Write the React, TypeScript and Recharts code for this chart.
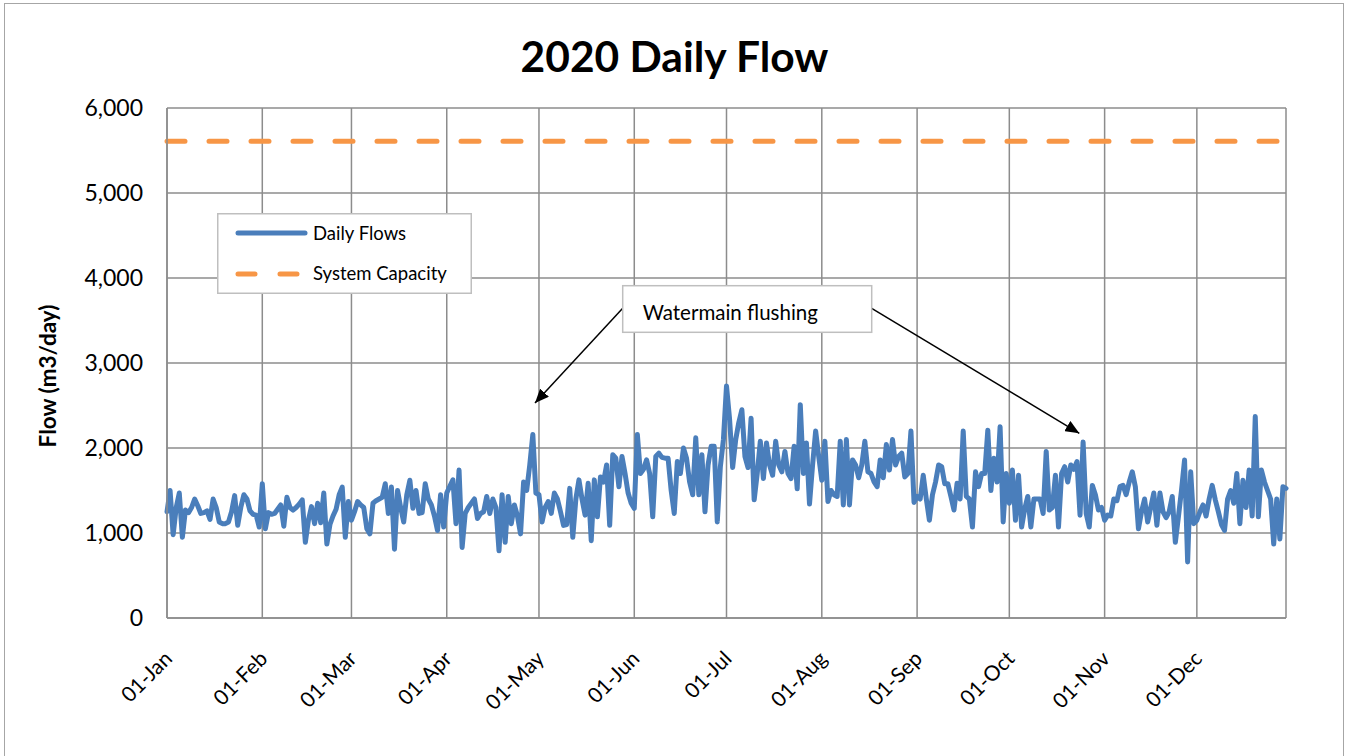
import React from 'react';
import { LineChart, Line, XAxis, YAxis, CartesianGrid, Legend } from 'recharts';

// Daily flows (m3/day), 2020
const jan = [1250, 1500, 980, 1300, 1470, 950, 1270, 1240, 1300, 1400, 1320, 1230, 1240, 1260, 1160, 1400, 1300, 1130, 1110, 1110, 1130, 1250, 1440, 1090, 1300, 1450, 1400, 1260, 1220, 1210, 1070];
const feb = [1580, 1050, 1240, 1220, 1230, 1280, 1330, 1080, 1420, 1300, 1270, 1300, 1340, 1390, 890, 1150, 1310, 1110, 1350, 1120, 1470, 870, 1100, 1200, 1280, 1450, 1540, 950, 1370];
const mar = [1150, 1250, 1370, 1330, 1300, 1050, 990, 1350, 1380, 1400, 1420, 1580, 1230, 1540, 810, 1500, 1300, 1130, 1450, 1620, 1290, 1500, 1230, 1240, 1580, 1400, 1330, 1200, 1030, 1450, 1070];
const apr = [1470, 1550, 1625, 1110, 1740, 830, 1230, 1300, 1350, 1400, 1170, 1230, 1250, 1430, 1230, 1400, 1300, 790, 1450, 890, 1430, 1110, 1330, 1200, 990, 1600, 1500, 1800, 2160, 1470];
const may = [1450, 1130, 1300, 1370, 1230, 1470, 1400, 1250, 1090, 1100, 1525, 950, 1400, 1625, 1400, 1210, 1585, 910, 1625, 1190, 1660, 1600, 1800, 1090, 1920, 1880, 1545, 1900, 1700, 1470, 1350];
const jun = [1290, 2160, 1700, 1750, 1860, 1700, 1190, 1900, 1940, 1890, 1880, 1880, 1500, 1230, 1840, 1700, 2000, 1880, 1600, 1450, 2120, 1450, 1920, 1250, 1800, 2020, 2020, 1130, 1780, 2100];
const jul = [2730, 2340, 1770, 2100, 2300, 2450, 1900, 1770, 2350, 1390, 1700, 2080, 1640, 2060, 1800, 1680, 2080, 1800, 1720, 1960, 1700, 1640, 2020, 1520, 2510, 1700, 2060, 1340, 1800, 2200, 1900];
const aug = [1620, 2080, 1370, 1500, 1450, 1430, 2080, 1330, 2100, 1330, 1860, 1800, 1650, 1800, 2080, 1720, 1700, 1600, 1545, 1860, 1650, 2040, 1740, 2100, 1800, 1900, 1940, 1660, 1700, 2200, 1360];
const sep = [1430, 1400, 1680, 1400, 1150, 1450, 1600, 1800, 1780, 1580, 1580, 1430, 1270, 1585, 1400, 2200, 1430, 1400, 1070, 1720, 1545, 1700, 1700, 2210, 1500, 1880, 1600, 2250, 1130, 1700];
const oct = [1350, 1740, 1150, 1680, 1070, 1280, 1430, 1070, 1400, 1400, 1400, 1230, 1960, 1270, 1300, 1680, 1070, 1700, 1780, 1600, 1800, 1750, 1840, 1210, 2070, 1230, 1070, 1560, 1450, 1270, 1300];
const nov = [1150, 1210, 1200, 1400, 1380, 1545, 1560, 1450, 1600, 1720, 1545, 1050, 1250, 1400, 1130, 1300, 1470, 1090, 1470, 1250, 1180, 1250, 1430, 890, 1190, 1500, 1860, 660, 1720, 1110];
const dec = [1150, 1250, 1330, 1200, 1400, 1560, 1390, 1250, 1100, 1030, 1400, 1500, 1350, 1700, 1110, 1620, 1300, 1740, 1200, 2370, 1190, 1740, 1600, 1500, 1400, 870, 1400, 930, 1545, 1525];

const SYSTEM_CAPACITY = 5610;
const monthNames = ['Jan', 'Feb', 'Mar', 'Apr', 'May', 'Jun', 'Jul', 'Aug', 'Sep', 'Oct', 'Nov', 'Dec'];
const monthLabels = monthNames.map((m) => '01-' + m);
const yTicks = [0, 1000, 2000, 3000, 4000, 5000, 6000];

const TITLE = '2020 Daily Flow';
const Y_LABEL = 'Flow (m3/day)';
const ANNOTATION = 'Watermain flushing';

const months = [jan, feb, mar, apr, may, jun, jul, aug, sep, oct, nov, dec];
const dailyFlows = months.flat();
const monthStartDays = months.map((_, i) => months.slice(0, i).reduce((s, a) => s + a.length, 0));
const data = dailyFlows.map((v, i) => ({ day: i, flow: v, capacity: SYSTEM_CAPACITY }));

const FONT = 'Lato, "Open Sans", sans-serif';
const BLUE = '#4a7ebb';
const ORANGE = '#f79646';
const GRID = '#8c8c8c';

const XTick = (props: any) => {
  const { x, y, payload } = props;
  const idx = monthStartDays.indexOf(payload.value);
  const ax = x + 6.5;
  const ay = y + 42;
  return (
    <text x={ax} y={ay} transform={`rotate(-45, ${ax}, ${ay})`} textAnchor="end" fontSize={21} fontFamily={FONT} fill="#000">
      {idx >= 0 ? monthLabels[idx] : ''}
    </text>
  );
};

const YLabel = (props: any) => {
  const { viewBox } = props;
  const cx = 56;
  const cy = viewBox.y + viewBox.height / 2 + 13;
  return (
    <text x={cx} y={cy} transform={`rotate(-90, ${cx}, ${cy})`} textAnchor="middle" fontSize={22.5} fontWeight="bold" fontFamily={FONT} fill="#000">
      {Y_LABEL}
    </text>
  );
};

const LegendBox = () => (
  <svg width={255} height={81} style={{ display: 'block' }}>
    <rect x={0.75} y={0.75} width={253.5} height={79.5} fill="#fff" stroke="#bfbfbf" strokeWidth={1.5} />
    <line x1={21} y1={20} x2={88} y2={20} stroke={BLUE} strokeWidth={5} strokeLinecap="round" />
    <text x={96} y={27} fontSize={18.5} fontFamily={FONT} fill="#000">Daily Flows</text>
    <line x1={21} y1={61} x2={83} y2={61} stroke={ORANGE} strokeWidth={5} strokeLinecap="round" strokeDasharray="17 25" />
    <text x={96} y={67} fontSize={18.5} fontFamily={FONT} fill="#000">System Capacity</text>
  </svg>
);

export default function App() {
  return (
    <div style={{ position: 'absolute', left: 0, top: 0, width: 1346, height: 756, background: '#fff', overflow: 'hidden' }}>
      <div style={{ position: 'absolute', left: 4, top: 3, width: 1340, height: 770, border: '1.5px solid #a6a6a6', boxSizing: 'border-box' }} />
      <LineChart width={1346} height={756} data={data} margin={{ top: 108, right: 60, bottom: 0, left: 0 }}>
        <CartesianGrid stroke={GRID} strokeWidth={1.5} />
        <XAxis
          dataKey="day"
          type="number"
          domain={[0, dailyFlows.length - 1]}
          ticks={monthStartDays}
          interval={0}
          height={138}
          tickLine={false}
          tickSize={0}
          tickMargin={0}
          axisLine={{ stroke: GRID, strokeWidth: 1.5 }}
          tick={<XTick />}
        />
        <YAxis
          width={167}
          domain={[0, 6000]}
          ticks={yTicks}
          interval={0}
          tickLine={false}
          tickSize={0}
          tickMargin={24}
          axisLine={{ stroke: GRID, strokeWidth: 1.5 }}
          tickFormatter={(v: number) => v.toLocaleString('en-US')}
          tick={{ fontSize: 23, fontFamily: FONT, fill: '#000' }}
          label={<YLabel />}
        />
        <Legend
          layout="vertical"
          align="center"
          verticalAlign="middle"
          wrapperStyle={{ position: 'absolute', left: 217, top: 213, width: 255, height: 81 }}
          content={() => <LegendBox />}
        />
        <Line dataKey="capacity" name="System Capacity" stroke={ORANGE} strokeWidth={5} strokeDasharray="18 24" strokeLinecap="round" dot={false} activeDot={false} isAnimationActive={false} />
        <Line dataKey="flow" name="Daily Flows" stroke={BLUE} strokeWidth={5} strokeLinejoin="round" strokeLinecap="round" dot={false} activeDot={false} isAnimationActive={false} />
      </LineChart>
      <svg width={1346} height={756} style={{ position: 'absolute', left: 0, top: 0, pointerEvents: 'none' }}>
        <defs>
          <marker id="arrowHead" markerUnits="userSpaceOnUse" markerWidth={15} markerHeight={12} refX={14} refY={6} orient="auto">
            <path d="M0,0 L14,6 L0,12 z" fill="#000" />
          </marker>
        </defs>
        <text x={674.5} y={72} textAnchor="middle" fontSize={42.5} fontWeight="bold" fontFamily={FONT} fill="#000">{TITLE}</text>
        <line x1={622.7} y1={308.3} x2={535} y2={403} stroke="#000" strokeWidth={1.5} markerEnd="url(#arrowHead)" />
        <line x1={871.7} y1={308.3} x2={1079.3} y2={433.3} stroke="#000" strokeWidth={1.5} markerEnd="url(#arrowHead)" />
        <rect x={622.7} y={285.7} width={249} height={46.6} fill="#fff" stroke="#bfbfbf" strokeWidth={1.5} />
        <text x={642.7} y={320} fontSize={20.5} fontFamily={FONT} fill="#000">{ANNOTATION}</text>
      </svg>
    </div>
  );
}
